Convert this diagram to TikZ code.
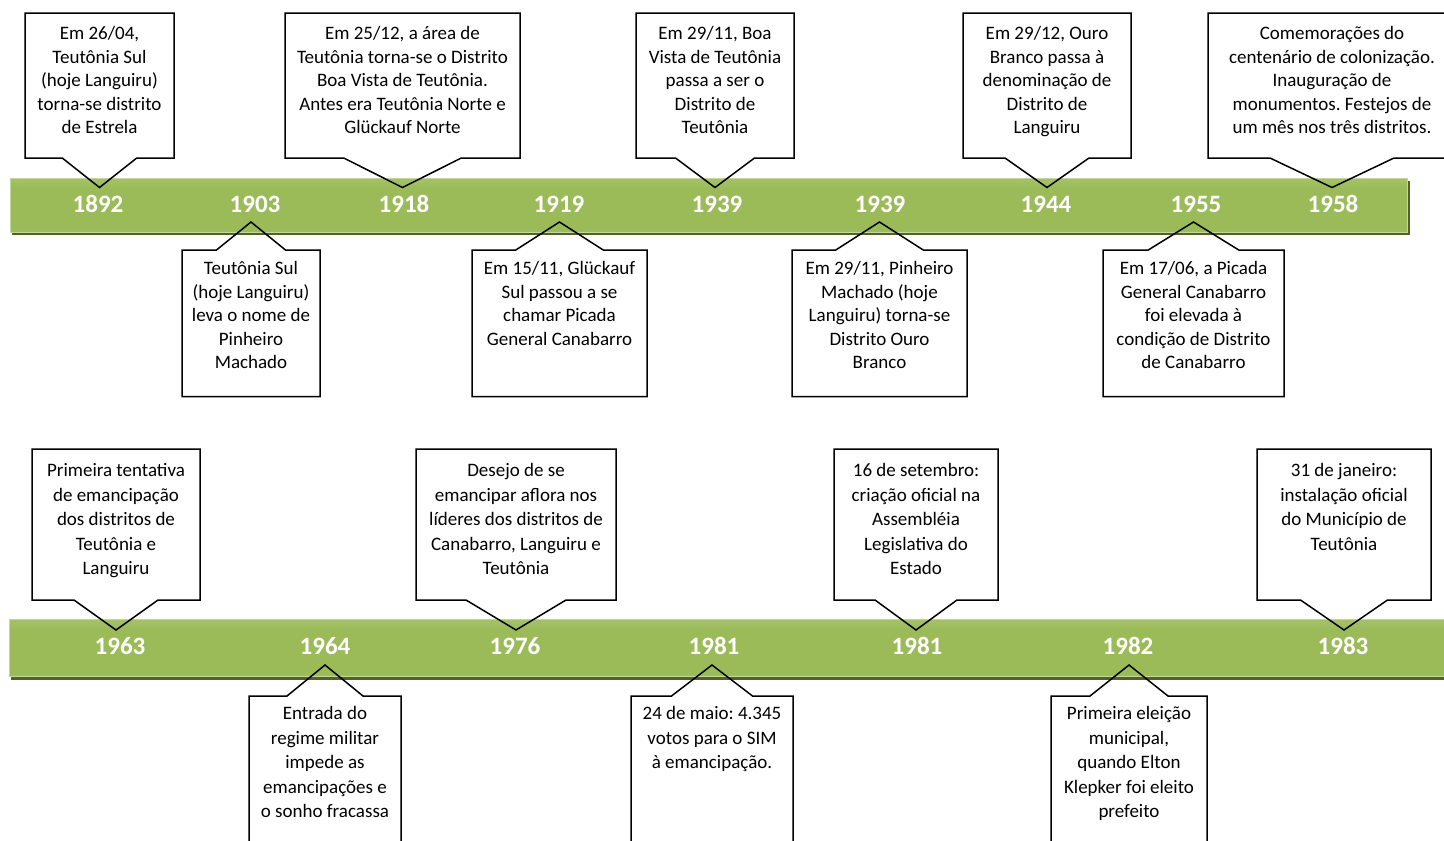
\documentclass[tikz,border=0pt]{standalone}
\usepackage{fontspec}
\setmainfont{Carlito}
\frenchspacing
\definecolor{barmid}{HTML}{9BBB59}
\definecolor{barlight}{HTML}{CCDEA8}
\definecolor{barlow}{HTML}{B3CB82}
\definecolor{barshadow}{HTML}{4F6228}
\definecolor{barrim}{HTML}{C3D69B}
\pgfdeclareverticalshading{barshade}{100bp}{color(0bp)=(barlight); color(8bp)=(barlow); color(28bp)=(barmid); color(66bp)=(barmid); color(88bp)=(barlow); color(100bp)=(barlight)}
\tikzset{
  callline/.style={draw=black, line width=1.5pt, line join=miter},
  tone/.style={font=\fontsize{19}{23.5}\selectfont, align=center, inner sep=0pt, text=black},
  ttwo/.style={font=\fontsize{19}{24.5}\selectfont, align=center, inner sep=0pt, text=black},
  yearlbl/.style={font=\fontsize{25}{30}\selectfont\bfseries, text=white, inner sep=0pt, anchor=base},
  barshadowstyle/.style={fill=barshadow},
  barstyle/.style={shading=barshade, draw=barrim, line width=0.8pt}
}
% name, style, xl, xr, ytop, ybottom, tip y, text north y, text
\newcommand\calltop[9]{%
  \pgfmathsetmacro\cxx{(#3+#4)/2}%
  \pgfmathsetmacro\qaa{#3+(#4-#3)/4}%
  \pgfmathsetmacro\qbb{#4-(#4-#3)/4}%
  \draw[callline] (#3,#5) -- (#4,#5) -- (#4,#6) -- (\qbb,#6) -- (\cxx,#7) -- (\qaa,#6) -- (#3,#6) -- cycle;
  \node[#2, anchor=north] (#1) at (\cxx,#8) {\strut #9};
}
\newcommand\callbot[9]{%
  \pgfmathsetmacro\cxx{(#3+#4)/2}%
  \pgfmathsetmacro\qaa{#3+(#4-#3)/4}%
  \pgfmathsetmacro\qbb{#4-(#4-#3)/4}%
  \draw[callline] (#3,#5) -- (\qaa,#5) -- (\cxx,#7) -- (\qbb,#5) -- (#4,#5) -- (#4,#6) -- (#3,#6) -- cycle;
  \node[#2, anchor=north] (#1) at (\cxx,#8) {\strut #9};
}
\begin{document}
\begin{tikzpicture}[x=1pt,y=-1pt]
\useasboundingbox (0,0) rectangle (1444,841);
\clip (0,0) rectangle (1444,841);
\fill[white] (0,0) rectangle (1444,841);
% bars
\fill[barshadowstyle] (12,181) rectangle (1410,235);
\shade[barstyle] (10,178) rectangle (1407,232);
\fill[barshadowstyle] (11,622) rectangle (1470,680);
\shade[barstyle] (9,619) rectangle (1465,676);
% years row 1
\node[yearlbl] (y1892) at (98,212) {1892};
\node[yearlbl] (y1903) at (255,212) {1903};
\node[yearlbl] (y1918) at (404,212) {1918};
\node[yearlbl] (y1919) at (559,212) {1919};
\node[yearlbl] (y1939a) at (717,212) {1939};
\node[yearlbl] (y1939b) at (880,212) {1939};
\node[yearlbl] (y1944) at (1046,212) {1944};
\node[yearlbl] (y1955) at (1196,212) {1955};
\node[yearlbl] (y1958) at (1333,212) {1958};
% years row 2
\node[yearlbl] (y1963) at (120,654) {1963};
\node[yearlbl] (y1964) at (325,654) {1964};
\node[yearlbl] (y1976) at (515,654) {1976};
\node[yearlbl] (y1981a) at (714,654) {1981};
\node[yearlbl] (y1981b) at (917,654) {1981};
\node[yearlbl] (y1982) at (1128,654) {1982};
\node[yearlbl] (y1983) at (1343,654) {1983};
% row 1, above
\calltop{c1892}{tone}{25}{174}{13}{158}{187.5}{23}{Em 26/04,\\ Teutônia Sul\\ (hoje Languiru)\\ torna-se distrito\\ de Estrela}
\calltop{c1918}{tone}{285}{520}{13}{158}{187.5}{23}{Em 25/12, a área de\\ Teutônia torna-se o Distrito\\ Boa Vista de Teutônia.\\ Antes era Teutônia Norte e\\ Glückauf Norte}
\calltop{c1939a}{tone}{636}{794}{13}{158}{187.5}{23}{Em 29/11, Boa\\ Vista de Teutônia\\ passa a ser o\\ Distrito de\\ Teutônia}
\calltop{c1944}{tone}{963}{1131}{13}{158}{187.5}{23}{Em 29/12, Ouro\\ Branco passa à\\ denominação de\\ Distrito de\\ Languiru}
\calltop{c1958}{tone}{1208}{1456}{13}{158}{187.5}{23}{Comemorações do\\ centenário de colonização.\\ Inauguração de\\ monumentos. Festejos de\\ um mês nos três distritos.}
% row 1, below
\callbot{c1903}{tone}{182}{320}{250}{396.5}{222}{258}{Teutônia Sul\\ (hoje Languiru)\\ leva o nome de\\ Pinheiro\\ Machado}
\callbot{c1919}{tone}{472}{647}{250}{396.5}{222}{258}{Em 15/11, Glückauf\\ Sul passou a se\\ chamar Picada\\ General Canabarro}
\callbot{c1939b}{tone}{792}{967}{250}{396.5}{222}{258}{Em 29/11, Pinheiro\\ Machado (hoje\\ Languiru) torna-se\\ Distrito Ouro\\ Branco}
\callbot{c1955}{tone}{1103}{1284}{250}{396.5}{222}{258}{Em 17/06, a Picada\\ General Canabarro\\ foi elevada à\\ condição de Distrito\\ de Canabarro}
% row 2, above
\calltop{c1963}{ttwo}{32}{200}{449}{600}{630}{459.3}{Primeira tentativa\\ de emancipação\\ dos distritos de\\ Teutônia e\\ Languiru}
\calltop{c1976}{ttwo}{416}{616}{449}{600}{630}{459.3}{Desejo de se\\ emancipar aflora nos\\ líderes dos distritos de\\ Canabarro, Languiru e\\ Teutônia}
\calltop{c1981a}{ttwo}{834}{998}{449}{600}{630}{459.3}{16 de setembro:\\ criação oficial na\\ Assembléia\\ Legislativa do\\ Estado}
\calltop{c1983}{ttwo}{1257}{1431}{449}{600}{630}{459.3}{31 de janeiro:\\ instalação oficial\\ do Município de\\ Teutônia}
% row 2, below
\callbot{c1964}{ttwo}{249}{401}{696}{880}{665}{702.3}{Entrada do\\ regime militar\\ impede as\\ emancipações e\\ o sonho fracassa}
\callbot{c1981b}{ttwo}{631}{793}{696}{880}{665}{702.3}{24 de maio: 4.345\\ votos para o SIM\\ à emancipação.}
\callbot{c1982}{ttwo}{1051}{1207}{696}{880}{665}{702.3}{Primeira eleição\\ municipal,\\ quando Elton\\ Klepker foi eleito\\ prefeito}
\end{tikzpicture}
\end{document}
